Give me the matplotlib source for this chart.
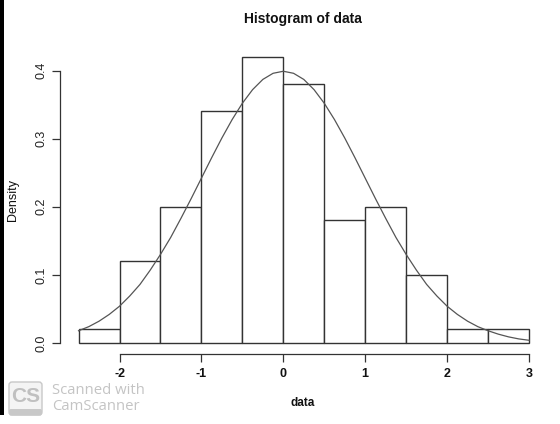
import matplotlib
matplotlib.use('Agg')
import matplotlib.pyplot as plt
from matplotlib.patches import FancyBboxPatch, Rectangle

# histogram of data
bin_edges = [-2.5, -2.0, -1.5, -1.0, -0.5, 0.0, 0.5, 1.0, 1.5, 2.0, 2.5, 3.0]
density = [0.02, 0.12, 0.20, 0.34, 0.42, 0.38, 0.18, 0.20, 0.10, 0.02, 0.02]

# density curve drawn over the bars
curve_x = [-2.5, -2.375, -2.25, -2.125, -2.0, -1.875, -1.75, -1.625, -1.5, -1.375, -1.25,
           -1.125, -1.0, -0.875, -0.75, -0.625, -0.5, -0.375, -0.25, -0.125, 0.0,
           0.125, 0.25, 0.375, 0.5, 0.625, 0.75, 0.875, 1.0, 1.125, 1.25,
           1.375, 1.5, 1.625, 1.75, 1.875, 2.0, 2.125, 2.25, 2.375, 2.5,
           2.625, 2.75, 2.875, 3.0]
curve_y = [0.018, 0.024, 0.032, 0.042, 0.054, 0.069, 0.086, 0.107, 0.130, 0.155, 0.183,
           0.212, 0.242, 0.272, 0.301, 0.328, 0.352, 0.372, 0.387, 0.396, 0.399,
           0.396, 0.387, 0.372, 0.352, 0.328, 0.301, 0.272, 0.242, 0.212, 0.183,
           0.155, 0.130, 0.107, 0.086, 0.069, 0.054, 0.042, 0.032, 0.024, 0.018,
           0.013, 0.009, 0.006, 0.004]

x_ticks = [-2, -1, 0, 1, 2, 3]
y_ticks = [0.0, 0.1, 0.2, 0.3, 0.4]

W, H = 560, 424
plt.rcParams['font.family'] = ['Liberation Sans', 'DejaVu Sans']
fig = plt.figure(figsize=(W / 100, H / 100), dpi=100)

ax = fig.add_axes([60 / W, 1 - 354 / H, 480 / W, 304 / H])
ax.set_xlim(-2.7265, 3.134)
ax.set_ylim(-0.01615, 0.4302)
ax.patch.set_visible(False)

line_col = '#333333'
ax.bar(bin_edges[:-1], density, width=0.5, align='edge', facecolor='white',
       edgecolor=line_col, linewidth=1.0)
ax.plot(curve_x, curve_y, color='#555555', linewidth=0.9)

for side in ['top', 'right']:
    ax.spines[side].set_visible(False)
ax.spines['left'].set_bounds(0, 0.4)
ax.spines['bottom'].set_bounds(-2, 3)
for side in ['left', 'bottom']:
    ax.spines[side].set_color(line_col)
    ax.spines[side].set_linewidth(0.9)

ax.set_xticks(x_ticks)
ax.set_xticklabels([str(v) for v in x_ticks], fontsize=9, fontweight='bold', color='#111111')
ax.set_yticks(y_ticks)
ax.set_yticklabels([f'{v:.1f}' for v in y_ticks], fontsize=9, rotation=90, va='center',
                   color='#222222')
ax.tick_params(axis='both', length=6, width=0.9, color=line_col)
ax.tick_params(axis='x', pad=4)
ax.tick_params(axis='y', pad=3)

fig.text(303 / W, 1 - 19 / H, 'Histogram of data', ha='center', va='center',
         fontsize=10, fontweight='bold', color='#111111')
fig.text(303 / W, 1 - 403 / H, 'data', ha='center', va='center',
         fontsize=8.5, fontweight='bold', color='#111111')
fig.text(13.5 / W, 1 - 200 / H, 'Density', rotation=90, ha='center', va='center',
         fontsize=9, color='#111111')

# overlay in pixel coordinates for the scanner badge and page edge
over = fig.add_axes([0, 0, 1, 1])
over.set_xlim(0, W)
over.set_ylim(H, 0)
over.axis('off')
over.add_patch(Rectangle((0, 0), 3.5, 415, facecolor='black', edgecolor='none'))
over.add_patch(FancyBboxPatch((9, 382), 33, 33, boxstyle='round,pad=0,rounding_size=3',
                              facecolor='#f4f4f4', edgecolor='#c8c8c8', linewidth=1.0))
over.add_patch(FancyBboxPatch((9, 409), 33, 6.5, boxstyle='round,pad=0,rounding_size=2',
                              facecolor='#c8c8c8', edgecolor='none'))
over.text(25.5, 397, 'CS', ha='center', va='center', fontsize=15, fontweight='bold',
          color='#c0c0c0')
over.text(52, 390, 'Scanned with', ha='left', va='center', fontsize=10.7,
          family=['Open Sans', 'DejaVu Sans'], color='#c4c4c4')
over.text(52, 407, 'CamScanner', ha='left', va='center', fontsize=10.7,
          family=['Open Sans', 'DejaVu Sans'], color='#c4c4c4')

fig.savefig('out.png', dpi=100)
plt.close(fig)
